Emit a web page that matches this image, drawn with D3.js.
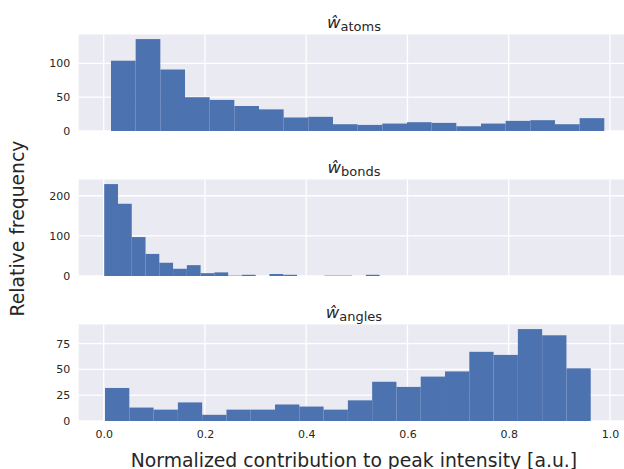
<!DOCTYPE html>
<html><head><meta charset="utf-8">
<script src="https://cdn.jsdelivr.net/npm/d3@7"></script>
<style>body{margin:0;background:#fff}svg{display:block}text{font-family:"DejaVu Sans",sans-serif;fill:#262626}</style>
</head><body><svg id="c" width="624" height="469"></svg>
<script>
const atomsRange = [0.0144, 0.9888];
const atomsCounts = [104, 136, 91, 50, 46, 37, 32, 20, 21, 10, 9, 11, 13, 12, 7, 11, 15, 16, 10, 19];
const bondsRange = [0.001, 0.545];
const bondsCounts = [229, 180, 97, 55, 33, 18, 27, 7, 9, 1, 3, 0, 5, 3, 0, 0, 1, 1, 0, 3];
const anglesRange = [0.0026, 0.962];
const anglesCounts = [32, 13, 11, 18, 6, 11, 11, 16, 14, 11, 20, 38, 33, 43, 48, 67, 64, 89, 83, 51];
const atomsTicks = [0, 50, 100];
const bondsTicks = [0, 100, 200];
const anglesTicks = [0, 25, 50, 75];
const xTicks = [0.0, 0.2, 0.4, 0.6, 0.8, 1.0];
const panelNames = ["atoms", "bonds", "angles"];
const xLabel = "Normalized contribution to peak intensity [a.u.]";
const yLabel = "Relative frequency";

const panels = [
  {name: panelNames[0], range: atomsRange, counts: atomsCounts, ticks: atomsTicks},
  {name: panelNames[1], range: bondsRange, counts: bondsCounts, ticks: bondsTicks},
  {name: panelNames[2], range: anglesRange, counts: anglesCounts, ticks: anglesTicks}
];
const svg = d3.select("#c");
const left = 78.7, right = 629.2, ph = 96.5;
const tops = [34.5, 179.5, 324.5];
const x = d3.scaleLinear().domain([-0.0494, 1.038]).range([left, right]);
const bg = "#EAEAF2", barColor = "#4C72B0";

panels.forEach((p, i) => {
  const top = tops[i], bottom = top + ph;
  const maxV = d3.max(p.counts);
  const y = d3.scaleLinear().domain([0, maxV * 1.05]).range([bottom, top]);
  const g = svg.append("g");
  g.append("rect").attr("x", left).attr("y", top).attr("width", right - left).attr("height", ph).attr("fill", bg);
  g.selectAll(".vg").data(xTicks).enter().append("line")
    .attr("x1", d => x(d)).attr("x2", d => x(d)).attr("y1", top).attr("y2", bottom)
    .attr("stroke", "#fff").attr("stroke-width", 1.3);
  g.selectAll(".hg").data(p.ticks).enter().append("line")
    .attr("x1", left).attr("x2", right).attr("y1", d => y(d)).attr("y2", d => y(d))
    .attr("stroke", "#fff").attr("stroke-width", 1.3);
  const n = p.counts.length;
  const w = (p.range[1] - p.range[0]) / n;
  const bins = p.counts.map((c, k) => ({x0: p.range[0] + k * w, x1: p.range[0] + (k + 1) * w, c}));
  g.selectAll(".bar").data(bins.filter(b => b.c > 0)).enter().append("rect")
    .attr("x", d => x(d.x0)).attr("width", d => x(d.x1) - x(d.x0))
    .attr("y", d => y(d.c)).attr("height", d => y(0) - y(d.c))
    .attr("fill", barColor);
  const ya = d3.axisLeft(y).tickValues(p.ticks).tickSize(0).tickPadding(8.5).tickFormat(d3.format("d"));
  const yg = g.append("g").attr("transform", `translate(${left},0)`).call(ya);
  yg.select(".domain").remove();
  yg.selectAll("text").style("font-size", "11px").attr("fill", "#262626").style("font-family", '"DejaVu Sans",sans-serif');
  const t = g.append("text").attr("x", (left + right) / 2).attr("y", top - 7).attr("text-anchor", "middle");
  t.append("tspan").text("ŵ").style("font-style", "italic").style("font-size", "16.5px");
  t.append("tspan").text(p.name).attr("dy", 3.2).style("font-size", "13px");
  if (i === 2) {
    const xa = d3.axisBottom(x).tickValues(xTicks).tickSize(0).tickPadding(9).tickFormat(d3.format(".1f"));
    const xg = g.append("g").attr("transform", `translate(0,${bottom})`).call(xa);
    xg.select(".domain").remove();
    xg.selectAll("text").style("font-size", "11px").attr("fill", "#262626").style("font-family", '"DejaVu Sans",sans-serif');
  }
});
svg.append("text").attr("x", (left + right) / 2).attr("y", 466.5).attr("text-anchor", "middle").style("font-size", "18.8px").text(xLabel);
svg.append("text").attr("transform", "translate(23.5,228.5) rotate(-90)").attr("text-anchor", "middle").style("font-size", "18.8px").text(yLabel);
</script></body></html>
